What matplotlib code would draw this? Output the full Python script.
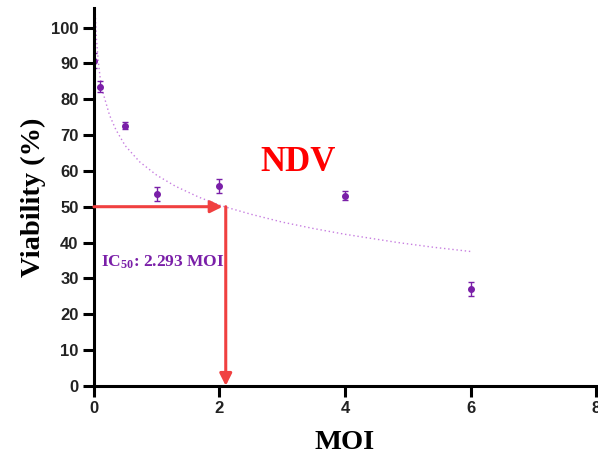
import matplotlib
matplotlib.use('Agg')
import matplotlib.pyplot as plt

plt.rcParams['mathtext.fontset'] = 'custom'
plt.rcParams['mathtext.rm'] = 'Liberation Serif:bold'
plt.rcParams['mathtext.it'] = 'Liberation Serif:bold'
plt.rcParams['mathtext.bf'] = 'Liberation Serif:bold'

# MOI doses and measured viability (%)
moi = [0.0, 0.1, 0.5, 1, 2, 4, 6]
viability = [90.8, 83.5, 72.6, 53.6, 55.8, 53.1, 27.0]
errors = [2.0, 1.5, 1.0, 2.0, 2.0, 1.2, 2.0]

# fitted curve
fit_x = [0.02, 0.04, 0.07, 0.1, 0.15, 0.25, 0.35, 0.5, 0.73, 1.0, 1.3, 1.68,
         2.04, 2.5, 3.0, 3.5, 4.0, 4.84, 5.4, 6.0]
fit_y = [105, 97, 90.5, 86, 81.5, 75.5, 71.5, 67, 62.5, 58.8, 55.7, 52.6,
         50.2, 47.9, 45.7, 43.9, 42.3, 40.0, 38.7, 37.5]

ic50 = 2.1
purple = '#7a1fa8'
red = '#f04040'

fig = plt.figure(figsize=(5.98, 4.61), dpi=100)
ax = fig.add_axes([0.157, 0.163, 0.84, 0.82])

# fit line and data points
ax.plot(fit_x, fit_y, linestyle=(0, (1, 2)), color='#c77ee0', linewidth=1.0)
ax.errorbar(moi, viability, yerr=errors, fmt='o', color=purple,
            markersize=4, capsize=2.5, elinewidth=1, capthick=1)

# IC50 arrows
ax.annotate('', xy=(ic50 - 0.05, 50), xytext=(0, 50),
            arrowprops=dict(arrowstyle='-|>', color=red, lw=2.2,
                            mutation_scale=18, shrinkA=0, shrinkB=0))
ax.annotate('', xy=(ic50, 0), xytext=(ic50, 50),
            arrowprops=dict(arrowstyle='-|>', color=red, lw=2.2,
                            mutation_scale=18, shrinkA=0, shrinkB=0))

# labels inside the plot
ax.text(0.12, 34.5, 'IC$_{50}$: 2.293 MOI', color=purple, fontsize=12.5,
        fontweight='bold', family='Liberation Serif', va='center')
ax.text(3.25, 62.3, 'NDV', color='red', fontsize=25, fontweight='bold',
        family='Liberation Serif', ha='center', va='center')

ax.set_xlim(0, 8)
ax.set_ylim(0, 105.5)
ax.set_xticks([0, 2, 4, 6, 8])
ax.set_yticks(range(0, 101, 10))

ax.set_xlabel('MOI', fontsize=20.5, fontweight='bold', family='Liberation Serif',
              labelpad=10)
ax.set_ylabel('Viability (%)', fontsize=20.5, fontweight='bold',
              family='Liberation Serif', labelpad=4)

for s in ['top', 'right']:
    ax.spines[s].set_visible(False)
for s in ['left', 'bottom']:
    ax.spines[s].set_linewidth(2.2)
ax.tick_params(width=2.2, length=8, labelsize=12, pad=3)
for lab in ax.get_xticklabels() + ax.get_yticklabels():
    lab.set_fontweight('bold')
    lab.set_family('Liberation Sans')
    lab.set_color('#222222')

fig.savefig('out.png', dpi=100)
